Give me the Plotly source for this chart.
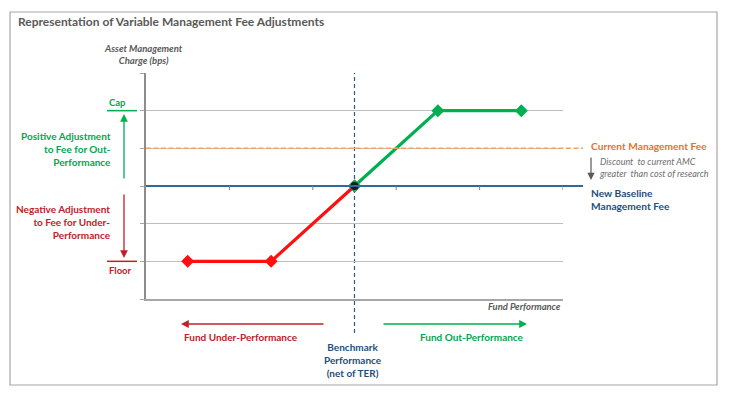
import plotly.graph_objects as go

# ---- data ----
under_x = [0.5, 1.5, 2.5]
under_y = [1, 1, 3]
out_x = [2.5, 3.5, 4.5]
out_y = [3, 5, 5]
benchmark_x = 2.5
baseline_fee = 3
current_fee = 4
cap_level = 5
floor_level = 1
x_ticks = [1, 2, 3, 4]
x_range = [0, 5]
y_range = [0, 6]

# page body margin offset (browser default)
OFF = 8
W_FIG, H_FIG = 734 - OFF, 398 - OFF
# plot area in reference page pixels
L, R, T, B = 146, 563, 73, 299
PW, PH = R - L, B - T


def xp(px):
    return (px - L) / PW


def yp(py):
    return (B - py) / PH


GREEN_L = "#00B050"
GREEN_T = "#00A650"
RED_L = "#FF1010"
RED_T = "#C0202A"
ORANGE_L = "#F4A063"
ORANGE_T = "#E4722A"
BLUE_L = "#2F6A9E"
BLUE_T = "#1F4E79"
GRAY_T = "#595959"
FONT = "Lato"

fig = go.Figure()
fig.add_trace(go.Scatter(x=under_x, y=under_y, mode="lines+markers",
                         line=dict(color=RED_L, width=3.2),
                         marker=dict(symbol="diamond", size=10, color=RED_L),
                         cliponaxis=False, hoverinfo="skip"))
fig.add_trace(go.Scatter(x=out_x, y=out_y, mode="lines+markers",
                         line=dict(color=GREEN_L, width=3.2),
                         marker=dict(symbol="diamond", size=10, color=GREEN_L),
                         cliponaxis=False, hoverinfo="skip"))
fig.add_trace(go.Scatter(x=[benchmark_x], y=[baseline_fee], mode="markers",
                         marker=dict(symbol="circle", size=8, color="#10182A"),
                         cliponaxis=False, hoverinfo="skip"))

shapes = []
# outer frame
shapes.append(dict(type="rect", xref="paper", yref="paper",
                   x0=xp(10), x1=xp(717), y0=yp(385), y1=yp(12),
                   line=dict(color="#A6A6A6", width=1.2), layer="below"))
# current fee dashed line
shapes.append(dict(type="line", xref="paper", yref="y", x0=0, x1=xp(583),
                   y0=current_fee, y1=current_fee,
                   line=dict(color=ORANGE_L, width=1.5, dash="5px,2.5px")))
# baseline fee line
shapes.append(dict(type="line", xref="paper", yref="y", x0=0, x1=xp(583),
                   y0=baseline_fee, y1=baseline_fee,
                   line=dict(color=BLUE_L, width=2)))
# small ticks below baseline
for t in x_ticks + [x_range[1]]:
    shapes.append(dict(type="line", xref="x", yref="y", ysizemode="pixel",
                       yanchor=baseline_fee, x0=t, x1=t, y0=0, y1=-4,
                       line=dict(color="#808080", width=1)))
# benchmark vertical dashed line
shapes.append(dict(type="line", xref="x", yref="paper", x0=benchmark_x, x1=benchmark_x,
                   y0=yp(333), y1=1, line=dict(color="#2F5A80", width=1.2, dash="4px,3px"),
                   layer="below"))
# cap / floor short markers
shapes.append(dict(type="line", xref="paper", yref="y", x0=xp(107), x1=xp(137),
                   y0=cap_level, y1=cap_level, line=dict(color=GREEN_L, width=1.5)))
shapes.append(dict(type="line", xref="paper", yref="y", x0=xp(107), x1=xp(137),
                   y0=floor_level, y1=floor_level, line=dict(color=RED_T, width=1.5)))

ann = []


def text(px, py, s, color, size=10, xanchor="left", align="left", yanchor="middle"):
    ann.append(dict(xref="paper", yref="paper", x=xp(px), y=yp(py), text=s,
                    showarrow=False, xanchor=xanchor, yanchor=yanchor, align=align,
                    font=dict(family=FONT, size=size, color=color)))


def arrow(hx, hy, tx, ty, color, width=1.3):
    ann.append(dict(xref="paper", yref="paper", x=xp(hx), y=yp(hy), text="",
                    showarrow=True, axref="pixel", ayref="pixel",
                    ax=tx - hx, ay=ty - hy, arrowhead=2, arrowsize=1.2,
                    arrowwidth=width, arrowcolor=color, standoff=0, startstandoff=0))


text(16, 22, "<b>Representation of Variable Management Fee Adjustments</b>", GRAY_T, size=12)
text(143, 54, "<b><i>Asset Management<br>Charge (bps)</i></b>", GRAY_T, size=9.5,
     xanchor="center", align="center")
text(563, 306, "<b><i>Fund Performance</i></b>", GRAY_T, size=9.4, xanchor="right")

text(107, 102, "<b>Cap</b>", GREEN_T, size=9.5)
text(113, 149, "<b>Positive Adjustment<br>to Fee for Out-<br>Performance</b>", GREEN_T,
     size=10, xanchor="right", align="right")
text(113, 222, "<b>Negative Adjustment<br>to Fee for Under-<br>Performance</b>", RED_T,
     size=10, xanchor="right", align="right")
text(107, 270, "<b>Floor</b>", RED_T, size=9.5)
arrow(124, 114, 124, 180, GREEN_L)
arrow(124, 258, 124, 193, RED_T)

text(589, 146, "<b>Current Management Fee</b>", ORANGE_T, size=10.2)
text(597, 167, "<i>Discount  to current AMC<br>greater  than cost of research</i>",
     "#6E6E6E", size=9)
arrow(591, 180, 591, 156, "#595959", width=1.2)
text(589, 199, "<b>New Baseline<br>Management Fee</b>", BLUE_T, size=10.2)

arrow(181, 324, 325, 324, RED_T)
arrow(527, 324, 382, 324, GREEN_L)
text(241, 337, "<b>Fund Under-Performance</b>", RED_T, size=10, xanchor="center")
text(472, 337, "<b>Fund Out-Performance</b>", GREEN_T, size=10, xanchor="center")
text(353, 360, "<b>Benchmark<br>Performance<br>(net of TER)</b>", BLUE_T, size=10,
     xanchor="center", align="center")

fig.update_layout(
    width=W_FIG, height=H_FIG, autosize=False,
    margin=dict(l=L - OFF, r=W_FIG - (R - OFF), t=T - OFF, b=H_FIG - (B - OFF), pad=0),
    paper_bgcolor="white", plot_bgcolor="white",
    showlegend=False, shapes=shapes, annotations=ann,
    font=dict(family=FONT),
    xaxis=dict(range=x_range, showgrid=False, zeroline=False, showticklabels=False,
               showline=True, linecolor="#A6A6A6", linewidth=1.5, ticks="",
               fixedrange=True),
    yaxis=dict(range=y_range, dtick=1, tick0=0, showgrid=True, gridcolor="#BFBFBF",
               gridwidth=1, zeroline=False, showticklabels=False, showline=True,
               linecolor="#8C8C8C", linewidth=1.5, ticks="outside", ticklen=4,
               tickcolor="#A6A6A6", fixedrange=True),
)

fig.write_html("out.html")
